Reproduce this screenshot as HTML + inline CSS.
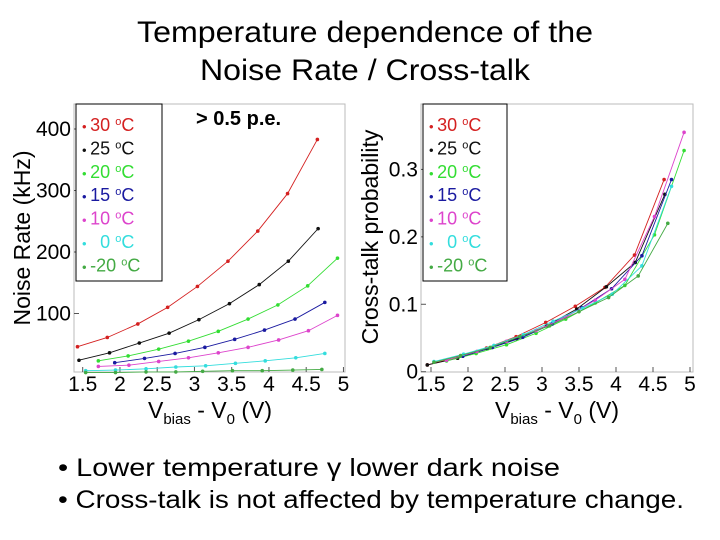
<!DOCTYPE html>
<html><head><meta charset="utf-8"><style>
html,body{margin:0;padding:0;background:#fff;}
svg{display:block;font-family:"Liberation Sans",sans-serif;}
text{white-space:pre;}
</style></head><body>
<svg id="root" width="720" height="540" viewBox="0 0 720 540">
<text x="365" y="42" font-size="30" text-anchor="middle" textLength="456" lengthAdjust="spacingAndGlyphs">Temperature dependence of the</text>
<text x="365" y="80" font-size="30" text-anchor="middle" textLength="330" lengthAdjust="spacingAndGlyphs">Noise Rate / Cross-talk</text>
<g id="left"></g>
<g id="right"></g>
<text x="58" y="476" font-size="25" textLength="502" lengthAdjust="spacingAndGlyphs">• Lower temperature γ lower dark noise</text>
<text x="58" y="508" font-size="25" textLength="626" lengthAdjust="spacingAndGlyphs">• Cross-talk is not affected by temperature change.</text>
</svg>
<script>
const seriesNames = ["30 °C","25 °C","20 °C","15 °C","10 °C","0 °C","-20 °C"];
const legendLabels = ["30 ","25 ","20 ","15 ","10 ","  0 ","-20 "];
const colors = ["#d42020","#111111","#33dd33","#1a1aa0","#dd44cc","#33dddd","#44aa44"];
const xTicks = [1.5,2,2.5,3,3.5,4,4.5,5];
const xTickLabels = ["1.5","2","2.5","3","3.5","4","4.5","5"];
const noiseYTicks = [100,200,300,400];
const ctYTicks = [0,0.1,0.2,0.3];
const ctYTickLabels = ["0","0.1","0.2","0.3"];
// Noise rate (kHz) data
const noiseX = [
 [1.43,1.83,2.24,2.64,3.04,3.45,3.85,4.25,4.65],
 [1.45,1.86,2.26,2.66,3.06,3.47,3.87,4.26,4.66],
 [1.71,2.11,2.52,2.92,3.32,3.72,4.12,4.52,4.92],
 [1.93,2.33,2.74,3.14,3.54,3.94,4.35,4.75],
 [1.71,2.12,2.52,2.92,3.32,3.72,4.13,4.53,4.92],
 [1.54,1.94,2.35,2.75,3.15,3.55,3.95,4.36,4.75],
 [1.54,1.94,2.35,2.75,3.11,3.51,3.91,4.32,4.71]
];
const noiseY = [
 [46,61,83,110,144,185,234,295,383],
 [24,36,52,68,90,116,147,185,238],
 [23,31,42,55,71,91,114,145,190],
 [20,27,35,45,58,73,91,118],
 [14,16,22,28,36,45,57,72,97],
 [7,8,10,13,15,19,23,28,35],
 [4,4,5,5,6,7,7,8,9]
];
// Cross-talk probability data
const ctX = [
 [1.45,1.85,2.25,2.65,3.05,3.45,3.85,4.25,4.65],
 [1.45,1.86,2.26,2.66,3.06,3.47,3.87,4.26,4.66],
 [1.71,2.11,2.52,2.92,3.32,3.72,4.12,4.52,4.92],
 [1.93,2.33,2.74,3.14,3.54,3.94,4.35,4.75],
 [1.71,2.12,2.52,2.92,3.32,3.72,4.12,4.52,4.92],
 [1.54,1.94,2.35,2.75,3.15,3.55,3.95,4.35,4.75],
 [1.54,1.9,2.3,2.7,3.1,3.5,3.9,4.3,4.7]
];
const ctY = [
 [0.010,0.021,0.035,0.052,0.073,0.097,0.125,0.173,0.285],
 [0.010,0.020,0.034,0.049,0.068,0.093,0.126,0.162,0.263],
 [0.016,0.027,0.040,0.057,0.078,0.102,0.128,0.203,0.328],
 [0.023,0.036,0.051,0.071,0.095,0.123,0.172,0.285],
 [0.017,0.030,0.045,0.061,0.081,0.106,0.137,0.230,0.355],
 [0.015,0.026,0.039,0.055,0.075,0.094,0.115,0.157,0.275],
 [0.014,0.024,0.036,0.052,0.068,0.089,0.110,0.142,0.220]
];
const NS="http://www.w3.org/2000/svg";
function el(tag,attrs,parent,text){const e=document.createElementNS(NS,tag);for(const k in attrs)e.setAttribute(k,attrs[k]);if(text!==undefined)e.textContent=text;parent.appendChild(e);return e;}

function drawChart(g,cfg){
  const sx=v=>cfg.x0+(v-1.5)*cfg.xs;
  const sy=v=>cfg.y0-v*cfg.ys;
  const frame=el('rect',{x:cfg.fl,y:cfg.ft,width:cfg.fr-cfg.fl,height:cfg.fb-cfg.ft,fill:'#fff',stroke:'#bbb','stroke-width':1},g);
  
  
  xTicks.forEach((t,i)=>{
    const tk=el('line',{x1:sx(t),x2:sx(t),y1:cfg.fb,y2:cfg.fb-5,stroke:'#555'},g);
    
    
    const lb=el('text',{x:sx(t),y:cfg.fb+19,'font-size':21,'text-anchor':'middle'},g,xTickLabels[i]);
    
    
  });
  cfg.yTicks.forEach((t,i)=>{
    const tk=el('line',{x1:cfg.fl,x2:cfg.fl+5,y1:sy(t),y2:sy(t),stroke:'#555'},g);
    
    
    const lb=el('text',{x:cfg.fl-3,y:sy(t)+7,'font-size':21,'text-anchor':'end'},g,cfg.yLabels[i]);
    
    
  });
  cfg.xs_.forEach((xs,s)=>{
    const ys=cfg.ys_[s];
    const pts=xs.map((x,i)=>sx(x)+','+sy(ys[i])).join(' ');
    const pl=el('polyline',{points:pts,fill:'none',stroke:colors[s],'stroke-width':0.9},g);
    
    
    xs.forEach((x,i)=>{
      const c=el('circle',{cx:sx(x),cy:sy(ys[i]),r:1.8,fill:colors[s]},g);
      
      
    });
  });
  const lg=el('g',{},g);
  
  
  const lr=el('rect',{x:cfg.lx,y:cfg.ft,width:cfg.lw,height:177,fill:'#fff',stroke:'#000','stroke-width':1},lg);
  
  
  seriesNames.forEach((n,i)=>{
    const t=el('text',{x:cfg.lx+6,y:cfg.ft+27+i*23.4,'font-size':18,fill:colors[i]},lg);
    
    
    el('tspan',{'font-size':13},t,'• ');
    el('tspan',{},t,legendLabels[i]);
    el('tspan',{'font-size':11,dy:-6},t,'o');
    el('tspan',{dy:6},t,'C');
  });
  const xt=el('text',{x:cfg.xtx,y:418,'font-size':23,'text-anchor':'middle'},g);
  
  
  el('tspan',{},xt,'V');
  el('tspan',{'font-size':15,dy:6},xt,'bias');
  el('tspan',{dy:-6},xt,' - V');
  el('tspan',{'font-size':15,dy:6},xt,'0');
  el('tspan',{dy:-6},xt,' (V)');
  const yt=el('text',{x:0,y:0,'font-size':23,'text-anchor':'middle',transform:`translate(${cfg.ytx},${cfg.yty}) rotate(-90)`},g,cfg.yTitle);
  
  
}
drawChart(document.getElementById('left'),{
  fl:74,fr:345,ft:104,fb:372,x0:82.7,xs:74.5,y0:375,ys:0.615,
  yTicks:noiseYTicks,yLabels:noiseYTicks.map(String),
  xs_:noiseX,ys_:noiseY,lx:76,lw:86,xtx:210,ytx:30,yty:238,yTitle:'Noise Rate (kHz)'
});
drawChart(document.getElementById('right'),{
  fl:421,fr:693,ft:104,fb:372,x0:431,xs:74,y0:371.7,ys:674.3,
  yTicks:ctYTicks,yLabels:ctYTickLabels,
  xs_:ctX,ys_:ctY,lx:423,lw:84,xtx:557,ytx:378,yty:237,yTitle:'Cross-talk probability'
});
const pe=el('text',{x:196,y:125,'font-size':20,'font-weight':'bold'},document.getElementById('left'),'> 0.5 p.e.');


</script>
</body></html>
